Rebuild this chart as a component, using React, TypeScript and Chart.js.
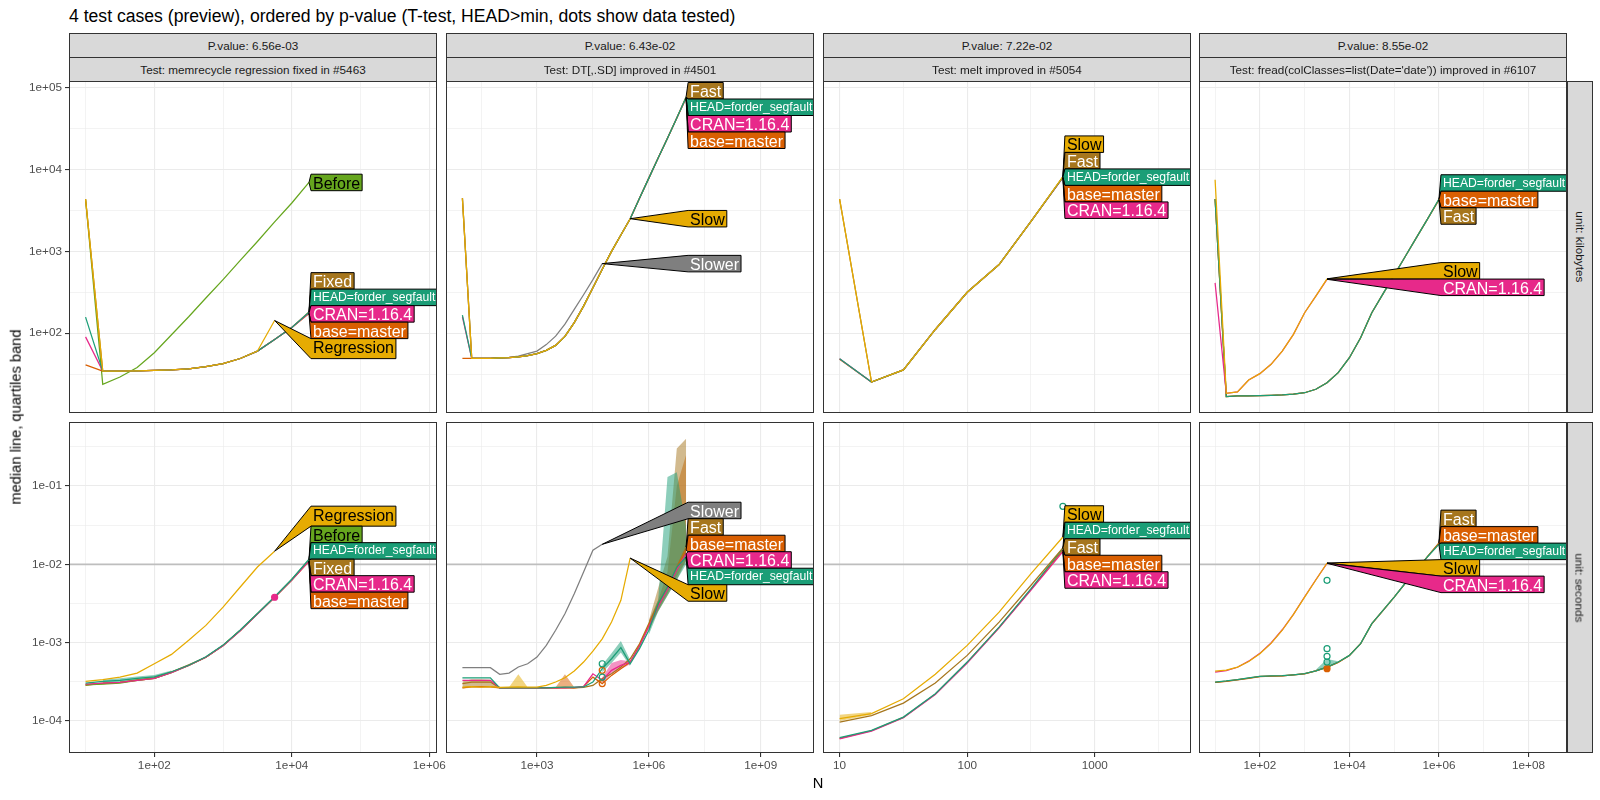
import React, { useEffect, useRef } from "react";
import { Chart, registerables } from "chart.js";

Chart.register(...registerables);

const FONT = '"Liberation Sans", Arial, Helvetica, sans-serif';

// ---------- texts ----------
const TITLE = "4 test cases (preview), ordered by p-value (T-test, HEAD>min, dots show data tested)";
const Y_TITLE = "median line, quartiles band";
const X_TITLE = "N";
const P_VALUES = ["P.value: 6.56e-03", "P.value: 6.43e-02", "P.value: 7.22e-02", "P.value: 8.55e-02"];
const TEST_NAMES = [
  "Test: memrecycle regression fixed in #5463",
  "Test: DT[,.SD] improved in #4501",
  "Test: melt improved in #5054",
  "Test: fread(colClasses=list(Date='date')) improved in #6107",
];
const UNITS = ["unit: kilobytes", "unit: seconds"];
const HLINE_SECONDS = 0.01;

// ---------- series look ----------
const COLORS: Record<string, string> = {
  HEAD: "#1B9E77", base: "#D95F02", CRAN: "#E7298A", Before: "#66A61E",
  Regression: "#E6AB02", Slow: "#E6AB02", Fixed: "#A6761D", Fast: "#A6761D", Slower: "#7F7F7F",
};
const LABEL_NAMES: Record<string, string> = {
  HEAD: "HEAD=forder_segfault", CRAN: "CRAN=1.16.4", base: "base=master", Before: "Before",
  Regression: "Regression", Slow: "Slow", Fixed: "Fixed", Fast: "Fast", Slower: "Slower",
};
const DARK_TEXT = ["Before", "Regression", "Slow"];

// ---------- axes ----------
const X_MIN = [5.74, 3.63, 7.41, 4.37];
const X_MAX = [1.294e6, 2.69e10, 5675, 7.24e8];
const Y_MIN = [10.57, 3.9e-5];
const Y_MAX = [120781, 0.656];
const X_TICKS = [[100, 1e4, 1e6], [1e3, 1e6, 1e9], [10, 100, 1000], [100, 1e4, 1e6, 1e8]];
const X_TICK_LABELS = [["1e+02", "1e+04", "1e+06"], ["1e+03", "1e+06", "1e+09"], ["10", "100", "1000"], ["1e+02", "1e+04", "1e+06", "1e+08"]];
const X_MINOR = [[10, 1000, 1e5], [31.62, 31623, 3.162e7], [31.62, 316.2, 3162], [10, 1000, 1e5, 1e7]];
const Y_TICKS = [[100, 1e3, 1e4, 1e5], [1e-4, 1e-3, 1e-2, 1e-1]];
const Y_TICK_LABELS = [["1e+02", "1e+03", "1e+04", "1e+05"], ["1e-04", "1e-03", "1e-02", "1e-01"]];
const Y_MINOR = [[31.62, 316.2, 3162, 31623], [3.162e-4, 3.162e-3, 0.03162, 0.3162]];

// ---------- data: memrecycle ----------
const nA = [10, 17.78, 31.62, 56.23, 100, 177.8, 316.2, 562.3, 1000, 1778, 3162, 5623, 10000, 17783];
const kbA_Before = [4300, 23.7, 29.1, 38.0, 57.7, 95.5, 158.5, 269.2, 451.9, 776.2, 1318, 2291, 3899, 6950];
const kbA_Regression = [4350, 34.4, 34.4, 34.7, 35.1, 35.5, 36.7, 38.9, 42.4, 49.0, 60.3, 142.9];
const kbA_Fixed = [4350, 34.4, 34.4, 34.7, 35.1, 35.5, 36.7, 38.9, 42.4, 49.0, 60.3, 83.9, 117.5, 182];
const kbA_HEAD = [157, 34.4, 34.4, 34.7, 35.1, 35.5, 36.7, 38.9, 42.4, 49.0, 60.3, 83.9, 117.5, 180];
const kbA_CRAN = [90, 34.4, 34.4, 34.7, 35.1, 35.5, 36.7, 38.9, 42.4, 49.0, 60.3, 83.9, 117.5, 176];
const kbA_base = [41, 34.4, 34.4, 34.7, 35.1, 35.5, 36.7, 38.9, 42.4, 49.0, 60.3, 83.9, 117.5, 174];
const sA_Regression = [3.21e-4, 3.37e-4, 3.63e-4, 4.08e-4, 5.38e-4, 7.08e-4, 1.07e-3, 1.66e-3, 2.84e-3, 5.13e-3, 9.23e-3, 1.47e-2];
const sA_Before = [2.9e-4, 2.95e-4, 3.05e-4, 3.3e-4, 3.5e-4, 4.15e-4, 5.1e-4, 6.5e-4, 9.2e-4, 1.44e-3, 2.34e-3, 3.82e-3, 6.4e-3, 1.14e-2];
const sA_HEAD = [3.05e-4, 3.2e-4, 3.3e-4, 3.5e-4, 3.65e-4, 4.25e-4, 5.15e-4, 6.6e-4, 9.3e-4, 1.45e-3, 2.36e-3, 3.85e-3, 6.45e-3, 1.16e-2];
const sA_Fixed = [2.85e-4, 3.05e-4, 3.12e-4, 3.35e-4, 3.55e-4, 4.2e-4, 5.2e-4, 6.5e-4, 9.2e-4, 1.43e-3, 2.33e-3, 3.8e-3, 6.35e-3, 1.12e-2];
const sA_CRAN = [2.95e-4, 3.05e-4, 3.1e-4, 3.3e-4, 3.5e-4, 4.15e-4, 5.1e-4, 6.5e-4, 9.1e-4, 1.42e-3, 2.32e-3, 3.8e-3, 6.3e-3, 1.1e-2];
const sA_base = [2.9e-4, 3.0e-4, 3.1e-4, 3.3e-4, 3.5e-4, 4.2e-4, 5.1e-4, 6.5e-4, 9.2e-4, 1.43e-3, 2.33e-3, 3.8e-3, 6.3e-3, 1.09e-2];
const nA_band = [17.78, 31.62, 56.23, 100, 177.8];
const sA_HEAD_lo = [3.05e-4, 3.15e-4, 3.3e-4, 3.5e-4, 4.1e-4];
const sA_HEAD_hi = [3.35e-4, 3.5e-4, 3.7e-4, 3.85e-4, 4.4e-4];
const sA_CRAN_points = [3.8e-3];

// ---------- data: DT[,.SD] ----------
const nB = [10, 17.78, 31.62, 56.23, 100, 177.8, 316.2, 562.3, 1000, 1778, 3162, 5623, 10000, 17783, 31623, 56234, 100000, 177828, 316228, 562341, 1000000, 1778279, 3162278, 5623413, 10000000];
const kbB_Fast = [4467, 49.2, 49.2, 49.3, 49.8, 50.1, 51.3, 53.1, 56.2, 61.7, 70.8, 91.2, 134.3, 213.8, 358.1, 602.6, 1000, 1585, 2506, 4467, 7852, 13804, 24155, 42658, 77625];
const kbB_HEAD = [166, 49.2, 49.2, 49.3, 49.8, 50.1, 51.3, 53.1, 56.2, 61.7, 70.8, 91.2, 134.3, 213.8, 358.1, 602.6, 1000, 1585, 2506, 4467, 7852, 13804, 24155, 42658, 76500];
const kbB_CRAN = [158.5, 49.2, 49.2, 49.3, 49.8, 50.1, 51.3, 53.1, 56.2, 61.7, 70.8, 91.2, 134.3, 213.8, 358.1, 602.6, 1000, 1585, 2506, 4467, 7852, 13804, 24155, 42658, 75500];
const kbB_base = [49.2, 49.2, 49.2, 49.3, 49.8, 50.1, 51.3, 53.1, 56.2, 61.7, 70.8, 91.2, 134.3, 213.8, 358.1, 602.6, 1000, 1585, 2506, 4467, 7852, 13804, 24155, 42658, 74500];
const kbB_Slow = [4467, 49.2, 49.2, 49.3, 49.8, 50.1, 51.3, 53.1, 56.2, 61.7, 70.8, 91.2, 134.3, 213.8, 358.1, 602.6, 1000, 1585, 2506];
const kbB_Slower = [4467, 49.2, 49.2, 49.3, 49.8, 50.5, 52.5, 56.2, 60.3, 72.4, 91.8, 128.8, 195, 295, 451.9, 707.9];
const sB_Slower = [4.79e-4, 4.79e-4, 4.79e-4, 4.79e-4, 3.94e-4, 4.09e-4, 4.89e-4, 5.38e-4, 6.55e-4, 9.23e-4, 1.44e-3, 2.34e-3, 4.22e-3, 7.96e-3, 1.51e-2, 1.8e-2];
const sB_Slow = [2.71e-4, 2.75e-4, 2.7e-4, 2.75e-4, 2.68e-4, 2.7e-4, 2.72e-4, 2.7e-4, 2.7e-4, 2.84e-4, 3.14e-4, 3.56e-4, 4.34e-4, 5.65e-4, 7.8e-4, 1.12e-3, 1.83e-3, 3.47e-3, 1.2e-2];
const sB_HEAD = [3.56e-4, 3.56e-4, 3.56e-4, 3.56e-4, 2.65e-4, 2.65e-4, 2.65e-4, 2.65e-4, 2.65e-4, 2.65e-4, 2.68e-4, 2.7e-4, 2.7e-4, 2.72e-4, 3.14e-4, 4.65e-4, 6.23e-4, 8.63e-4, 5.38e-4, 8.38e-4, 1.44e-3, 3.14e-3, 5.13e-3, 9.23e-3, 1.24e-2];
const sB_Fast = [2.99e-4, 3.14e-4, 3.14e-4, 3.14e-4, 2.65e-4, 2.65e-4, 2.65e-4, 2.65e-4, 2.65e-4, 2.65e-4, 2.65e-4, 2.65e-4, 2.65e-4, 2.68e-4, 2.84e-4, 3.47e-4, 4.0e-4, 4.89e-4, 6.23e-4, 9.68e-4, 1.75e-3, 3.14e-3, 5.13e-3, 9.23e-3, 1.66e-2];
const sB_base = [2.65e-4, 2.75e-4, 2.75e-4, 2.75e-4, 2.65e-4, 2.65e-4, 2.65e-4, 2.65e-4, 2.65e-4, 2.65e-4, 2.65e-4, 2.68e-4, 2.65e-4, 2.75e-4, 3.63e-4, 3.0e-4, 3.82e-4, 4.65e-4, 5.65e-4, 9.23e-4, 1.66e-3, 2.99e-3, 4.9e-3, 8.79e-3, 1.51e-2];
const sB_CRAN = [3.3e-4, 3.3e-4, 3.3e-4, 3.3e-4, 2.65e-4, 2.65e-4, 2.65e-4, 2.65e-4, 2.65e-4, 2.65e-4, 2.65e-4, 2.65e-4, 2.68e-4, 2.75e-4, 4.0e-4, 3.31e-4, 4.43e-4, 5.13e-4, 5.65e-4, 9.0e-4, 1.6e-3, 2.9e-3, 4.8e-3, 8.5e-3, 1.37e-2];
const nB_bandEnd = [1000000, 1778279, 3162278, 5623413, 10000000];
const sB_HEAD_lo = [1.26e-3, 2.5e-3, 3.98e-3, 6.3e-3, 1.0e-2];
const sB_HEAD_hi = [1.78e-3, 3.5e-3, 0.13, 0.15, 0.03];
const sB_Fast_lo = [1.5e-3, 2.5e-3, 4.0e-3, 6.3e-3, 1.12e-2];
const sB_Fast_hi = [1.9e-3, 5.0e-3, 1.26e-2, 0.3, 0.4];
const sB_base_lo = [1.4e-3, 2.6e-3, 4.2e-3, 7.0e-3, 1.12e-2];
const sB_base_hi = [1.9e-3, 3.5e-3, 8.0e-3, 0.1, 0.25];
const nB_bandMid = [56234, 100000, 177828, 316228];
const sB_CRAN_lo = [3.0e-4, 4.0e-4, 4.6e-4, 5.3e-4];
const sB_CRAN_hi = [3.6e-4, 5.5e-4, 6.0e-4, 5.8e-4];
const sB_HEADmid_lo = [4.2e-4, 5.5e-4, 7.5e-4, 5.0e-4];
const sB_HEADmid_hi = [5.2e-4, 7.3e-4, 1.05e-3, 6.0e-4];
const nB_bandStart = [10, 17.78, 31.62, 56.23, 100];
const sB_Faststart_lo = [2.6e-4, 2.65e-4, 2.65e-4, 2.65e-4, 2.6e-4];
const sB_Faststart_hi = [3.2e-4, 3.4e-4, 3.4e-4, 3.35e-4, 2.7e-4];
const nB_bandSlow = [177.8, 316.2, 562.3];
const sB_Slowbump_lo = [2.65e-4, 2.65e-4, 2.65e-4];
const sB_Slowbump_hi = [2.7e-4, 3.94e-4, 2.7e-4];
const nB_bandBase = [3162, 5623, 10000];
const sB_basebump_lo = [2.6e-4, 2.65e-4, 2.6e-4];
const sB_basebump_hi = [2.7e-4, 3.94e-4, 2.7e-4];
const nB_tested = 56234;
const sB_HEAD_points = [5.38e-4, 3.63e-4];
const sB_base_points = [4.43e-4, 3.0e-4];

// ---------- data: melt ----------
const nC = [10, 17.78, 31.62, 56.23, 100, 177.8, 316.2, 562.3];
const kbC_Slow = [4355, 25.3, 35.5, 110.9, 316.2, 688.7, 2323, 8200];
const kbC_Fast = [4355, 25.3, 35.5, 110.9, 316.2, 688.7, 2323, 8100];
const kbC_HEAD = [48.8, 25.3, 35.5, 110.9, 316.2, 688.7, 2323, 8072];
const kbC_base = [48.0, 25.3, 35.5, 110.9, 316.2, 688.7, 2323, 8000];
const kbC_CRAN = [48.8, 25.3, 35.5, 110.9, 316.2, 688.7, 2323, 7950];
const sC_Slow = [1.07e-4, 1.24e-4, 1.92e-4, 3.94e-4, 9.23e-4, 2.45e-3, 7.6e-3, 2.23e-2];
const sC_Fast = [9.68e-5, 1.17e-4, 1.69e-4, 3.05e-4, 6.87e-4, 1.83e-3, 5.4e-3, 1.62e-2];
const sC_HEAD = [6.11e-5, 7.59e-5, 1.12e-4, 2.23e-4, 5.65e-4, 1.58e-3, 4.89e-3, 1.6e-2];
const sC_base = [6.0e-5, 7.5e-5, 1.11e-4, 2.2e-4, 5.6e-4, 1.56e-3, 4.8e-3, 1.52e-2];
const sC_CRAN = [5.9e-5, 7.4e-5, 1.1e-4, 2.18e-4, 5.5e-4, 1.54e-3, 4.7e-3, 1.45e-2];
const nC_band = [10, 17.78];
const sC_Slow_lo = [1.0e-4, 1.2e-4];
const sC_Slow_hi = [1.2e-4, 1.3e-4];
const sC_HEAD_points = [0.055];

// ---------- data: fread ----------
const nD = [10, 17.78, 31.62, 56.23, 100, 177.8, 316.2, 562.3, 1000, 1778, 3162, 5623, 10000, 17783, 31623, 56234, 100000, 177828, 316228, 562341, 1000000];
const kbD_Slow = [7499, 18.4, 19.1, 26.7, 32.0, 41.6, 60.3, 96.6, 177.8, 283.1, 461.4];
const kbD_CRAN = [412, 18.4, 19.1, 26.7, 32.0, 41.6, 60.3, 96.6, 177.8, 283.1, 455];
const kbD_HEAD = [4355, 16.8, 17.1, 17.1, 17.2, 17.4, 17.6, 18.0, 18.7, 20.6, 24.8, 32.9, 50.1, 87.9, 177.8, 302.0, 512.9, 871.0, 1479, 2512, 4355];
const kbD_base = [4355, 16.8, 17.1, 17.1, 17.2, 17.4, 17.6, 18.0, 18.7, 20.6, 24.8, 32.9, 50.1, 87.9, 177.8, 302.0, 512.9, 871.0, 1479, 2512, 4300];
const kbD_Fast = [4355, 16.8, 17.1, 17.1, 17.2, 17.4, 17.6, 18.0, 18.7, 20.6, 24.8, 32.9, 50.1, 87.9, 177.8, 302.0, 512.9, 871.0, 1479, 2512, 4250];
const sD_Slow = [4.34e-4, 4.47e-4, 4.88e-4, 5.75e-4, 7.23e-4, 9.77e-4, 1.44e-3, 2.29e-3, 3.82e-3, 6.31e-3, 1.04e-2];
const sD_CRAN = [4.2e-4, 4.4e-4, 4.85e-4, 5.8e-4, 7.3e-4, 9.9e-4, 1.46e-3, 2.3e-3, 3.85e-3, 6.35e-3, 1.03e-2];
const sD_HEAD = [3.14e-4, 3.24e-4, 3.37e-4, 3.55e-4, 3.71e-4, 3.76e-4, 3.78e-4, 3.89e-4, 4.02e-4, 4.37e-4, 4.88e-4, 5.65e-4, 6.87e-4, 9.7e-4, 1.75e-3, 2.58e-3, 3.82e-3, 5.77e-3, 8.38e-3, 1.26e-2, 1.8e-2];
const sD_base = [3.1e-4, 3.2e-4, 3.35e-4, 3.5e-4, 3.68e-4, 3.74e-4, 3.76e-4, 3.87e-4, 4.0e-4, 4.35e-4, 4.85e-4, 5.6e-4, 6.85e-4, 9.68e-4, 1.74e-3, 2.57e-3, 3.8e-3, 5.75e-3, 8.35e-3, 1.26e-2, 1.85e-2];
const sD_Fast = [3.12e-4, 3.22e-4, 3.36e-4, 3.52e-4, 3.7e-4, 3.75e-4, 3.77e-4, 3.88e-4, 4.01e-4, 4.36e-4, 4.86e-4, 5.62e-4, 6.86e-4, 9.69e-4, 1.75e-3, 2.58e-3, 3.81e-3, 5.76e-3, 8.37e-3, 1.27e-2, 1.88e-2];
const nD_band = [1778, 3162, 5623];
const sD_HEAD_lo = [4.3e-4, 4.7e-4, 5.5e-4];
const sD_HEAD_hi = [4.5e-4, 6.2e-4, 5.8e-4];
const nD_tested = 3162;
const sD_HEAD_points = [6.24e-3, 8.38e-4, 6.68e-4, 5.65e-4];
const sD_base_points = [4.65e-4];

// ---------- geometry ----------
const PANEL_LEFT = [69, 446, 823, 1199];
const PANEL_W = 368;
const PANEL_TOP = [81, 422];
const PANEL_H = [332, 331];
const Y_AXIS_W = 69;
const X_AXIS_H = 47;
const MARGIN = 14;

type Series = { key: string; n: number[]; y: number[] };
type Band = { key: string; n: number[]; lo: number[]; hi: number[] };
type Pts = { key: string; n: number; y: number[]; filled: boolean };
type PanelCfg = { row: number; col: number; series: Series[]; bands: Band[]; points: Pts[]; labelOrder: string[] };

const PANELS: PanelCfg[] = [
  {
    row: 0, col: 0,
    series: [
      { key: "Regression", n: nA, y: kbA_Regression },
      { key: "HEAD", n: nA, y: kbA_HEAD },
      { key: "CRAN", n: nA, y: kbA_CRAN },
      { key: "base", n: nA, y: kbA_base },
      { key: "Fixed", n: nA, y: kbA_Fixed },
      { key: "Before", n: nA, y: kbA_Before },
    ],
    bands: [], points: [],
    labelOrder: ["Before", "Fixed", "HEAD", "CRAN", "base", "Regression"],
  },
  {
    row: 1, col: 0,
    series: [
      { key: "Regression", n: nA, y: sA_Regression },
      { key: "HEAD", n: nA, y: sA_HEAD },
      { key: "CRAN", n: nA, y: sA_CRAN },
      { key: "Before", n: nA, y: sA_Before },
      { key: "Fixed", n: nA, y: sA_Fixed },
      { key: "base", n: nA, y: sA_base },
    ],
    bands: [{ key: "HEAD", n: nA_band, lo: sA_HEAD_lo, hi: sA_HEAD_hi }],
    points: [{ key: "CRAN", n: 5623, y: sA_CRAN_points, filled: true }],
    labelOrder: ["Regression", "Before", "HEAD", "Fixed", "CRAN", "base"],
  },
  {
    row: 0, col: 1,
    series: [
      { key: "Slow", n: nB, y: kbB_Slow },
      { key: "HEAD", n: nB, y: kbB_HEAD },
      { key: "Fast", n: nB, y: kbB_Fast },
      { key: "CRAN", n: nB, y: kbB_CRAN },
      { key: "base", n: nB, y: kbB_base },
      { key: "Slower", n: nB, y: kbB_Slower },
    ],
    bands: [], points: [],
    labelOrder: ["Fast", "HEAD", "CRAN", "base", "Slow", "Slower"],
  },
  {
    row: 1, col: 1,
    series: [
      { key: "Slower", n: nB, y: sB_Slower },
      { key: "Slow", n: nB, y: sB_Slow },
      { key: "HEAD", n: nB, y: sB_HEAD },
      { key: "CRAN", n: nB, y: sB_CRAN },
      { key: "base", n: nB, y: sB_base },
      { key: "Fast", n: nB, y: sB_Fast },
    ],
    bands: [
      { key: "HEAD", n: nB_bandEnd, lo: sB_HEAD_lo, hi: sB_HEAD_hi },
      { key: "Fast", n: nB_bandEnd, lo: sB_Fast_lo, hi: sB_Fast_hi },
      { key: "base", n: nB_bandEnd, lo: sB_base_lo, hi: sB_base_hi },
      { key: "CRAN", n: nB_bandMid, lo: sB_CRAN_lo, hi: sB_CRAN_hi },
      { key: "HEAD", n: nB_bandMid, lo: sB_HEADmid_lo, hi: sB_HEADmid_hi },
      { key: "Fast", n: nB_bandStart, lo: sB_Faststart_lo, hi: sB_Faststart_hi },
      { key: "Slow", n: nB_bandSlow, lo: sB_Slowbump_lo, hi: sB_Slowbump_hi },
      { key: "base", n: nB_bandBase, lo: sB_basebump_lo, hi: sB_basebump_hi },
    ],
    points: [
      { key: "HEAD", n: nB_tested, y: sB_HEAD_points, filled: false },
      { key: "base", n: nB_tested, y: sB_base_points, filled: false },
    ],
    labelOrder: ["Slower", "Fast", "base", "CRAN", "HEAD", "Slow"],
  },
  {
    row: 0, col: 2,
    series: [
      { key: "Slow", n: nC, y: kbC_Slow },
      { key: "HEAD", n: nC, y: kbC_HEAD },
      { key: "Fast", n: nC, y: kbC_Fast },
      { key: "CRAN", n: nC, y: kbC_CRAN },
      { key: "base", n: nC, y: kbC_base },
    ],
    bands: [], points: [],
    labelOrder: ["Slow", "Fast", "HEAD", "base", "CRAN"],
  },
  {
    row: 1, col: 2,
    series: [
      { key: "Slow", n: nC, y: sC_Slow },
      { key: "Fast", n: nC, y: sC_Fast },
      { key: "HEAD", n: nC, y: sC_HEAD },
      { key: "CRAN", n: nC, y: sC_CRAN },
      { key: "base", n: nC, y: sC_base },
    ],
    bands: [{ key: "Slow", n: nC_band, lo: sC_Slow_lo, hi: sC_Slow_hi }],
    points: [{ key: "HEAD", n: 562.3, y: sC_HEAD_points, filled: false }],
    labelOrder: ["Slow", "HEAD", "Fast", "base", "CRAN"],
  },
  {
    row: 0, col: 3,
    series: [
      { key: "Slow", n: nD, y: kbD_Slow },
      { key: "CRAN", n: nD, y: kbD_CRAN },
      { key: "HEAD", n: nD, y: kbD_HEAD },
      { key: "base", n: nD, y: kbD_base },
      { key: "Fast", n: nD, y: kbD_Fast },
    ],
    bands: [], points: [],
    labelOrder: ["HEAD", "base", "Fast", "Slow", "CRAN"],
  },
  {
    row: 1, col: 3,
    series: [
      { key: "Slow", n: nD, y: sD_Slow },
      { key: "CRAN", n: nD, y: sD_CRAN },
      { key: "HEAD", n: nD, y: sD_HEAD },
      { key: "base", n: nD, y: sD_base },
      { key: "Fast", n: nD, y: sD_Fast },
    ],
    bands: [{ key: "HEAD", n: nD_band, lo: sD_HEAD_lo, hi: sD_HEAD_hi }],
    points: [
      { key: "HEAD", n: nD_tested, y: sD_HEAD_points, filled: false },
      { key: "base", n: nD_tested, y: sD_base_points, filled: true },
    ],
    labelOrder: ["Fast", "base", "HEAD", "Slow", "CRAN"],
  },
];

function rgba(hex: string, a: number) {
  const v = parseInt(hex.slice(1), 16);
  return `rgba(${(v >> 16) & 255},${(v >> 8) & 255},${v & 255},${a})`;
}

// quadratic-programming style label placement (isotonic regression with spacing)
function placeLabels(targets: number[], heights: number[], top: number, bottom: number): number[] {
  const n = targets.length;
  const off: number[] = [0];
  for (let i = 1; i < n; i++) off[i] = off[i - 1] + (heights[i - 1] + heights[i]) / 2;
  const blocks: { sum: number; cnt: number }[] = [];
  targets.forEach((t, i) => {
    blocks.push({ sum: t - off[i], cnt: 1 });
    while (blocks.length > 1) {
      const b = blocks[blocks.length - 1];
      const a = blocks[blocks.length - 2];
      if (a.sum / a.cnt > b.sum / b.cnt) {
        a.sum += b.sum;
        a.cnt += b.cnt;
        blocks.pop();
      } else break;
    }
  });
  const d: number[] = [];
  blocks.forEach((b) => {
    for (let k = 0; k < b.cnt; k++) d.push(b.sum / b.cnt);
  });
  const L = top + heights[0] / 2;
  const U = bottom - heights[n - 1] / 2 - off[n - 1];
  return d.map((v, i) => Math.min(Math.max(v, L), U) + off[i]);
}

function makeScale(axis: "x" | "y", min: number, max: number, major: number[], labels: string[], minor: number[], show: boolean, size: number) {
  return {
    type: "logarithmic",
    min, max,
    bounds: "data",
    display: true,
    afterBuildTicks: (s: any) => {
      s.ticks = [
        ...major.map((v, i) => ({ value: v, lbl: labels[i], minorTick: false })),
        ...minor.map((v) => ({ value: v, lbl: "", minorTick: true })),
      ];
    },
    afterFit: (s: any) => {
      if (axis === "x") s.height = size;
      else s.width = size;
      s.paddingTop = 0;
      s.paddingBottom = 0;
      s.paddingLeft = 0;
      s.paddingRight = 0;
    },
    ticks: {
      display: show,
      autoSkip: false,
      maxRotation: 0,
      minRotation: 0,
      padding: axis === "x" ? 2 : 3,
      color: "#4D4D4D",
      font: { family: FONT, size: 11.73 },
      callback: (_v: any, i: number, ticks: any[]) => ticks[i].lbl,
    },
    grid: {
      display: true,
      drawOnChartArea: true,
      drawTicks: show,
      tickLength: 4,
      color: "#EBEBEB",
      lineWidth: (c: any) => (c.tick && c.tick.minorTick ? 0.6 : 1.1),
      tickColor: (c: any) => (c.tick && c.tick.minorTick ? "rgba(0,0,0,0)" : "#333333"),
      tickWidth: 1.1,
    },
    border: { display: false },
  };
}

function Panel({ cfg }: { cfg: PanelCfg }) {
  const ref = useRef<HTMLCanvasElement>(null);
  const { row, col } = cfg;
  const showY = col === 0;
  const showX = row === 1;
  const padL = showY ? 0 : MARGIN;
  const padB = showX ? 0 : MARGIN;
  const extraL = showY ? Y_AXIS_W : MARGIN;
  const extraB = showX ? X_AXIS_H : MARGIN;
  const left = PANEL_LEFT[col] - extraL;
  const width = PANEL_W + extraL + MARGIN;
  const top = PANEL_TOP[row] - MARGIN;
  const height = PANEL_H[row] + MARGIN + extraB;

  useEffect(() => {
    const datasets: any[] = [];
    cfg.series.forEach((s, i) => {
      datasets.push({
        label: s.key,
        data: s.y.map((v, k) => ({ x: s.n[k], y: v })),
        borderColor: COLORS[s.key],
        borderWidth: 1.25,
        pointRadius: 0,
        fill: false,
        tension: 0,
        order: i,
      });
    });
    cfg.bands.forEach((b) => {
      datasets.push({
        label: b.key + " q75",
        data: b.hi.map((v, k) => ({ x: b.n[k], y: v })),
        borderColor: "rgba(0,0,0,0)",
        borderWidth: 0,
        pointRadius: 0,
        backgroundColor: rgba(COLORS[b.key], 0.5),
        fill: "+1",
        order: 100,
      });
      datasets.push({
        label: b.key + " q25",
        data: b.lo.map((v, k) => ({ x: b.n[k], y: v })),
        borderColor: "rgba(0,0,0,0)",
        borderWidth: 0,
        pointRadius: 0,
        fill: false,
        order: 100,
      });
    });
    cfg.points.forEach((p) => {
      datasets.push({
        label: p.key + " tested",
        data: p.y.map((v) => ({ x: p.n, y: v })),
        showLine: false,
        pointRadius: 3,
        pointBorderWidth: 1.2,
        pointBorderColor: COLORS[p.key],
        pointBackgroundColor: p.filled ? COLORS[p.key] : "rgba(0,0,0,0)",
        order: -1,
      });
    });

    const deco = {
      id: "deco",
      beforeDatasetsDraw(chart: any) {
        if (row !== 1) return;
        const ctx = chart.ctx;
        const ca = chart.chartArea;
        const y = chart.scales.y.getPixelForValue(HLINE_SECONDS);
        ctx.save();
        ctx.strokeStyle = "#BEBEBE";
        ctx.lineWidth = 1.8;
        ctx.beginPath();
        ctx.moveTo(ca.left, y);
        ctx.lineTo(ca.right, y);
        ctx.stroke();
        ctx.restore();
      },
      afterDatasetsDraw(chart: any) {
        const ctx = chart.ctx;
        const ca = chart.chartArea;
        const xs = chart.scales.x;
        const ys = chart.scales.y;
        const items = cfg.labelOrder.map((k) => {
          const s = cfg.series.find((q) => q.key === k)!;
          const last = s.y.length - 1;
          return {
            k,
            text: LABEL_NAMES[k],
            fs: k === "HEAD" ? 12.2 : 16,
            h: k === "Regression" ? 20 : 16.5,
            tx: xs.getPixelForValue(s.n[last]),
            ty: ys.getPixelForValue(s.y[last]),
          };
        });
        const maxX = Math.max(...items.map((it) => it.tx));
        const boxL = maxX + 2;
        const centers = placeLabels(items.map((it) => it.ty), items.map((it) => it.h), ca.top + 1.5, ca.bottom - 1.5);
        ctx.save();
        ctx.beginPath();
        ctx.rect(ca.left, ca.top, ca.right - ca.left, ca.bottom - ca.top);
        ctx.clip();
        items.forEach((it, i) => {
          ctx.font = `${it.fs}px ${FONT}`;
          const w = ctx.measureText(it.text).width;
          const t = centers[i] - it.h / 2;
          const b = centers[i] + it.h / 2;
          const r = boxL + w + 4;
          ctx.beginPath();
          ctx.moveTo(it.tx, it.ty);
          ctx.lineTo(boxL, t);
          ctx.lineTo(r, t);
          ctx.lineTo(r, b);
          ctx.lineTo(boxL, b);
          ctx.closePath();
          ctx.fillStyle = COLORS[it.k];
          ctx.fill();
          ctx.lineWidth = 1;
          ctx.strokeStyle = "#000";
          ctx.stroke();
          ctx.fillStyle = DARK_TEXT.includes(it.k) ? "#000" : "#fff";
          ctx.textAlign = "left";
          ctx.textBaseline = "alphabetic";
          ctx.fillText(it.text, boxL + 2, t + (it.fs === 16 ? 14.5 : 11.8));
        });
        ctx.restore();
        ctx.save();
        ctx.strokeStyle = "#333333";
        ctx.lineWidth = 1;
        ctx.strokeRect(ca.left + 0.5, ca.top + 0.5, ca.right - ca.left - 1, ca.bottom - ca.top - 1);
        ctx.restore();
      },
    };

    const chart = new Chart(ref.current as HTMLCanvasElement, {
      type: "line",
      data: { datasets },
      options: {
        responsive: false,
        animation: false,
        devicePixelRatio: 1,
        events: [],
        layout: { padding: { left: padL, right: MARGIN, top: MARGIN, bottom: padB }, autoPadding: false },
        plugins: { legend: { display: false }, tooltip: { enabled: false } },
        scales: {
          x: makeScale("x", X_MIN[col], X_MAX[col], X_TICKS[col], X_TICK_LABELS[col], X_MINOR[col], showX, showX ? X_AXIS_H : 0),
          y: makeScale("y", Y_MIN[row], Y_MAX[row], Y_TICKS[row], Y_TICK_LABELS[row], Y_MINOR[row], showY, showY ? Y_AXIS_W : 0),
        },
      } as any,
      plugins: [deco],
    } as any);
    return () => chart.destroy();
  }, []);

  return (
    <canvas
      ref={ref}
      width={width}
      height={height}
      style={{ position: "absolute", left, top, width, height, display: "block" }}
    />
  );
}

const stripBase: React.CSSProperties = {
  position: "absolute",
  boxSizing: "border-box",
  background: "#D9D9D9",
  border: "1px solid #333333",
  display: "flex",
  alignItems: "center",
  justifyContent: "center",
  color: "#1A1A1A",
  fontSize: 11.73,
  lineHeight: 1,
  whiteSpace: "nowrap",
  overflow: "hidden",
};

export default function App() {
  return (
    <div
      style={{
        position: "fixed", left: 0, top: 0, width: 1600, height: 800,
        background: "#FFFFFF", overflow: "hidden", fontFamily: FONT,
      }}
    >
      {PANELS.map((p) => (
        <Panel key={`${p.row}-${p.col}`} cfg={p} />
      ))}
      <div style={{ position: "absolute", left: 69, top: 8, fontSize: 17.6, lineHeight: "17.6px", color: "#000", whiteSpace: "nowrap" }}>
        {TITLE}
      </div>
      {P_VALUES.map((t, c) => (
        <div key={"p" + c} style={{ ...stripBase, left: PANEL_LEFT[c], top: 33, width: PANEL_W, height: 25 }}>
          {t}
        </div>
      ))}
      {TEST_NAMES.map((t, c) => (
        <div key={"t" + c} style={{ ...stripBase, left: PANEL_LEFT[c], top: 57, width: PANEL_W, height: 25 }}>
          {t}
        </div>
      ))}
      {UNITS.map((u, r) => (
        <div key={"u" + r} style={{ ...stripBase, left: 1567, top: PANEL_TOP[r], width: 26, height: PANEL_H[r], overflow: "visible" }}>
          <span style={{ transform: "rotate(90deg)", display: "inline-block" }}>{u}</span>
        </div>
      ))}
      <div
        style={{
          position: "absolute", left: 16, top: 417, fontSize: 14.67, lineHeight: 1, color: "#000",
          whiteSpace: "nowrap", transform: "translate(-50%, -50%) rotate(-90deg)",
        }}
      >
        {Y_TITLE}
      </div>
      <div
        style={{
          position: "absolute", left: 818, top: 782.5, fontSize: 14.67, lineHeight: 1, color: "#000",
          whiteSpace: "nowrap", transform: "translate(-50%, -50%)",
        }}
      >
        {X_TITLE}
      </div>
    </div>
  );
}
